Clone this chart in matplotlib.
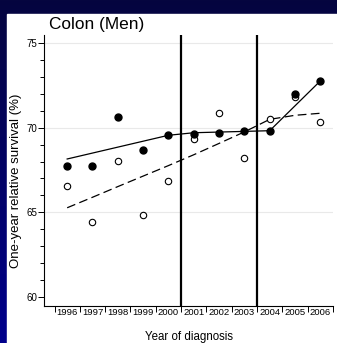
import numpy as np
import matplotlib
matplotlib.use("Agg")
import matplotlib.pyplot as plt
from matplotlib.patches import Rectangle
from matplotlib.ticker import MultipleLocator, FixedLocator
from matplotlib.transforms import blended_transform_factory

plt.rcParams['font.family'] = ['Liberation Sans', 'DejaVu Sans']

years = [1996, 1997, 1998, 1999, 2000, 2001, 2002, 2003, 2004, 2005, 2006]
observed_filled = [67.75, 67.73, 70.63, 68.66, 69.57, 69.60, 69.70, 69.82, 69.82, 71.97, 72.74]
observed_open = [66.57, 64.45, 68.01, 64.82, 66.85, 69.31, 70.85, 68.21, 70.49, 71.83, 70.35]
fit_solid = [68.15, 68.50, 68.85, 69.20, 69.55, 69.70, 69.74, 69.78, 69.82, 71.29, 72.76]
fit_dashed = [65.27, 65.89, 66.52, 67.14, 67.76, 68.40, 69.07, 69.75, 70.49, 70.73, 70.85]
breaks = [2000.5, 2003.5]
title = "Colon (Men)"
xlabel = "Year of diagnosis"
ylabel = "One-year relative survival (%)"

W, H = 337, 343
fig = plt.figure(figsize=(W / 100, H / 100), dpi=100)

# gradient background frame
bg = fig.add_axes([0, 0, 1, 1], zorder=-10)
grad = np.linspace(0, 1, 256).reshape(-1, 1)
top = np.array([5, 5, 63]) / 255
bot = np.array([0, 0, 140]) / 255
img = top[None, None, :] * (1 - grad[:, :, None]) + bot[None, None, :] * grad[:, :, None]
bg.imshow(img, aspect='auto', extent=[0, 1, 0, 1], origin='upper')
bg.add_patch(Rectangle((7 / W, 0), 1, 1 - 14 / H, color='white', transform=bg.transAxes))
bg.set_xlim(0, 1)
bg.set_ylim(0, 1)
bg.axis('off')

ax = fig.add_axes([44 / W, (H - 305.5) / H, 289 / W, 271 / H])
ax.set_xlim(1995.085, 2006.5)
ax.set_ylim(59.5, 75.5)

for g in [65, 70, 75]:
    ax.axhline(g, color='#e9e9e9', lw=0.8, zorder=0)

for b in breaks:
    ax.axvline(b, color='black', lw=1.6, zorder=2)

ax.plot(years, fit_solid, color='black', lw=0.9, zorder=3)
ax.plot(years, fit_dashed, color='black', lw=0.9, dashes=(7, 3.5), zorder=3)
ax.plot(years, observed_open, 'o', ms=4.6, mfc='white', mec='black', mew=0.8, zorder=4)
ax.plot(years, observed_filled, 'o', ms=5, mfc='black', mec='black', zorder=5)

for s in ['top', 'right']:
    ax.spines[s].set_visible(False)
for s in ['left', 'bottom']:
    ax.spines[s].set_linewidth(0.8)

ax.yaxis.set_major_locator(FixedLocator([60, 65, 70, 75]))
ax.yaxis.set_minor_locator(MultipleLocator(1))
ax.set_xticks([y - 0.5 for y in years] + [years[-1] + 0.5])
ax.set_xticklabels([])
lab_tr = blended_transform_factory(ax.transData, fig.transFigure)
for y in years:
    ax.text(y, 1 - 312.5 / H, str(y), transform=lab_tr, ha='center', va='center', fontsize=6.8)
ax.tick_params(axis='y', which='major', length=4, width=0.7, labelsize=7, pad=1)
ax.tick_params(axis='y', which='minor', length=3, width=0.7)
ax.tick_params(axis='x', which='major', length=4, width=0.7)

fig.text(16 / W, 1 - 181 / H, ylabel, fontsize=9.5, rotation=90, ha='center', va='center')
fig.text(188.5 / W, 1 - 337 / H, xlabel, fontsize=8.3, ha='center', va='center')
fig.text(49 / W, 1 - 25 / H, title, fontsize=12.4, ha='left', va='center')

fig.savefig("out.png", dpi=100)
